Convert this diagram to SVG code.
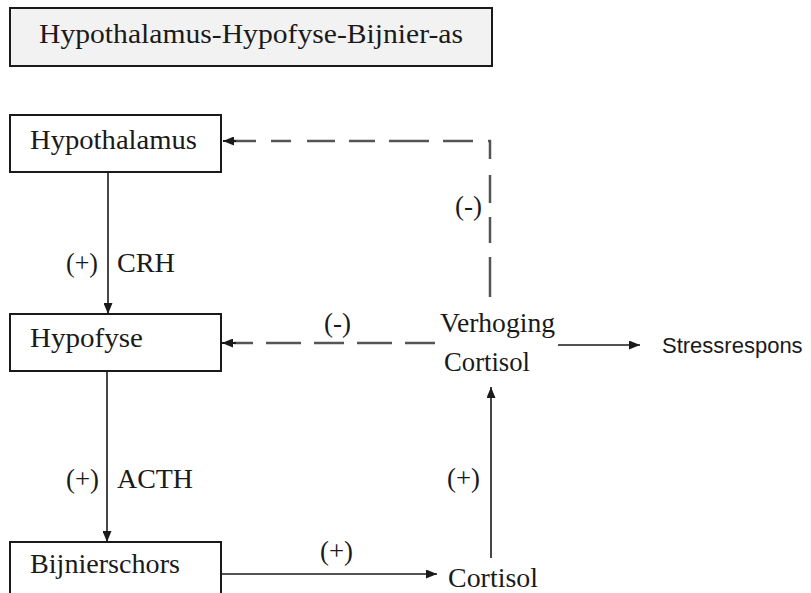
<svg xmlns="http://www.w3.org/2000/svg" width="811" height="593" viewBox="0 0 811 593">
<style>
.box{fill:#fff;stroke:#1a1a1a;stroke-width:2}
.t{font-family:"Liberation Serif","DejaVu Serif",serif;font-size:27px;fill:#1a1a1a}
.s{font-family:"Liberation Sans",Arial,sans-serif;font-size:22px;fill:#1a1a1a}
.ln{stroke:#1a1a1a;stroke-width:1.6;fill:none}
.dash{stroke:#555;stroke-width:2.5;fill:none}
</style>
<defs>
<marker id="ah" viewBox="0 0 11 9" refX="11" refY="4.5" markerWidth="11" markerHeight="9" markerUnits="userSpaceOnUse" orient="auto">
<path d="M0,0 L11,4.5 L0,9 z" fill="#1a1a1a"/>
</marker>
</defs>
<rect width="811" height="593" fill="#fff"/>
<g id="title">
<rect x="10" y="8" width="482" height="58" fill="#f2f2f2" stroke="#1a1a1a" stroke-width="2"/>
<text class="t" x="39" y="43" textLength="424" lengthAdjust="spacingAndGlyphs">Hypothalamus-Hypofyse-Bijnier-as</text>
</g>
<g id="hypothalamus">
<rect class="box" x="10" y="115" width="211" height="57"/>
<text class="t" x="30" y="149" textLength="167" lengthAdjust="spacingAndGlyphs">Hypothalamus</text>
</g>
<g id="hypofyse">
<rect class="box" x="10" y="314" width="211" height="57"/>
<text class="t" x="30" y="347" textLength="113" lengthAdjust="spacingAndGlyphs">Hypofyse</text>
</g>
<g id="bijnierschors">
<rect class="box" x="10" y="542" width="211" height="70"/>
<text class="t" x="30" y="573" textLength="150" lengthAdjust="spacingAndGlyphs">Bijnierschors</text>
</g>
<g id="verhoging">
<text class="t" x="440" y="332" textLength="115" lengthAdjust="spacingAndGlyphs">Verhoging</text>
<text class="t" x="444" y="371" textLength="86" lengthAdjust="spacingAndGlyphs">Cortisol</text>
</g>
<g id="cortisol">
<text class="t" x="448" y="587" textLength="90" lengthAdjust="spacingAndGlyphs">Cortisol</text>
</g>
<g id="stressrespons">
<text class="s" x="662" y="353">Stressrespons</text>
</g>
<g id="connectors">
<line class="ln" x1="108" y1="172" x2="108" y2="314" marker-end="url(#ah)"/>
<line class="ln" x1="107" y1="371" x2="107" y2="542" marker-end="url(#ah)"/>
<line class="ln" x1="221" y1="574" x2="437" y2="574" marker-end="url(#ah)"/>
<line class="ln" x1="491" y1="558" x2="491" y2="387" marker-end="url(#ah)"/>
<line class="ln" x1="558" y1="345" x2="640" y2="345" marker-end="url(#ah)"/>
<polyline class="dash" points="490,297 490,141 234,141" stroke-dasharray="40 14 26 14 28 16 20 15 30 14"/>
<path d="M236,141 L223,141" stroke="#1a1a1a" stroke-width="2" marker-end="url(#ah)"/>
<line class="dash" x1="435" y1="343" x2="234" y2="343" stroke-dasharray="30 13 35 13"/>
<path d="M236,343 L222,343" stroke="#1a1a1a" stroke-width="2" marker-end="url(#ah)"/>
<text class="t" x="66" y="272" textLength="32" lengthAdjust="spacingAndGlyphs">(+)</text>
<text class="t" x="117" y="272" textLength="58" lengthAdjust="spacingAndGlyphs">CRH</text>
<text class="t" x="66" y="488" textLength="33" lengthAdjust="spacingAndGlyphs">(+)</text>
<text class="t" x="117" y="488" textLength="76" lengthAdjust="spacingAndGlyphs">ACTH</text>
<text class="t" x="447" y="487" textLength="33" lengthAdjust="spacingAndGlyphs">(+)</text>
<text class="t" x="320" y="560" textLength="33" lengthAdjust="spacingAndGlyphs">(+)</text>
<text class="t" x="455" y="215" textLength="27" lengthAdjust="spacingAndGlyphs">(-)</text>
<text class="t" x="324" y="332" textLength="27" lengthAdjust="spacingAndGlyphs">(-)</text>
</g>
</svg>
